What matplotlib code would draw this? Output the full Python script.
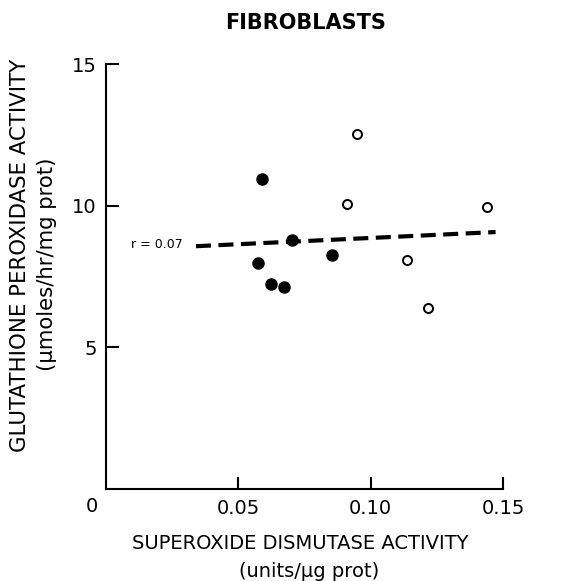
import matplotlib
matplotlib.use('Agg')
from matplotlib import pyplot as plt

plt.rcParams['font.family'] = ['DejaVu Sans']

# filled circles
sod_filled = [0.0590, 0.0702, 0.0573, 0.0624, 0.0672, 0.0853]
gpx_filled = [10.95, 8.79, 7.99, 7.24, 7.12, 8.25]
# open circles
sod_open = [0.0948, 0.0912, 0.1441, 0.1138, 0.1218]
gpx_open = [12.54, 10.06, 9.94, 8.07, 6.40]
# regression line, r = 0.07
line_x = [0.034, 0.1472]
line_y = [8.57, 9.07]

fig = plt.figure(figsize=(5.69, 5.81), dpi=100)
ax = fig.add_axes([0.1863, 0.1583, 0.8840 - 0.1863, 0.8898 - 0.1583])

ax.plot(line_x, line_y, color='black', lw=3, dashes=(3.6, 1.8), solid_capstyle='butt')
ax.plot(sod_filled, gpx_filled, 'o', color='black', markersize=8, zorder=3)
ax.plot(sod_open, gpx_open, 'o', markerfacecolor='white', markeredgecolor='black',
        markersize=6.5, markeredgewidth=1.4, zorder=3)
ax.text(0.029, 8.62, 'r = 0.07', ha='right', va='center', fontsize=9)

ax.set_xlim(0, 0.15)
ax.set_ylim(0, 15)
ax.spines['top'].set_visible(False)
ax.spines['right'].set_visible(False)
ax.spines['left'].set_linewidth(1.5)
ax.spines['bottom'].set_linewidth(1.5)
ax.set_xticks([0.05, 0.10, 0.15])
ax.set_xticklabels(['0.05', '0.10', '0.15'])
ax.set_yticks([5, 10, 15])
ax.set_yticklabels(['5', '10', '15'])
ax.tick_params(axis='both', direction='in', length=9, width=1.5, labelsize=14)
ax.tick_params(axis='x', pad=7)
ax.tick_params(axis='y', pad=6.5)
ax.text(-0.035, -0.042, '0', transform=ax.transAxes, ha='center', va='center', fontsize=14)

fig.text(0.537, 0.961, 'FIBROBLASTS', ha='center', va='center', fontsize=15, fontweight='bold')
fig.text(0.528, 0.0654, 'SUPEROXIDE DISMUTASE ACTIVITY', ha='center', va='center', fontsize=14)
fig.text(0.544, 0.016, '(units/\u00b5g prot)', ha='center', va='center', fontsize=14)
fig.text(0.036, 0.560, 'GLUTATHIONE PEROXIDASE ACTIVITY', ha='center', va='center',
         rotation=90, fontsize=15.3)
fig.text(0.083, 0.546, '(\u00b5moles/hr/mg prot)', ha='center', va='center',
         rotation=90, fontsize=15.3)

fig.savefig('out.png', dpi=100)
